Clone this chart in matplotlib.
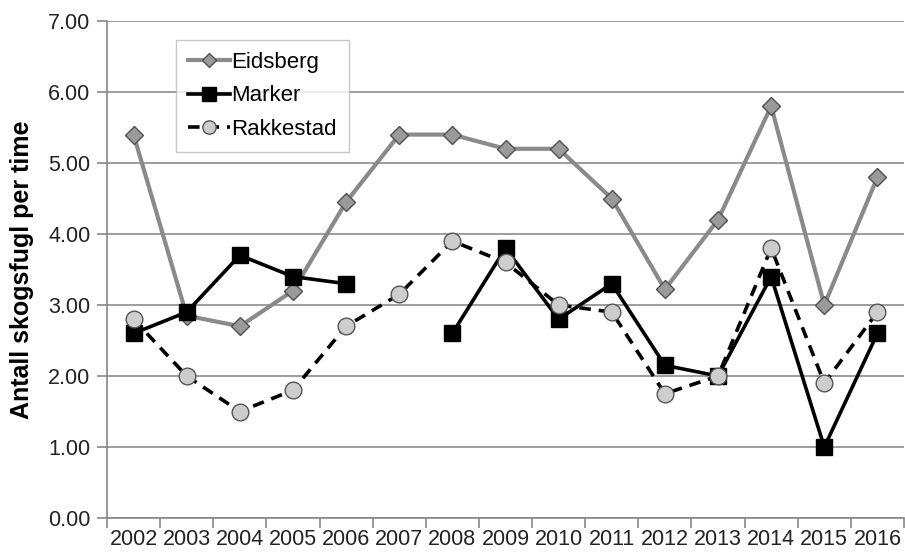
import numpy as np
import matplotlib
matplotlib.use("Agg")
import matplotlib.pyplot as plt

plt.rcParams['font.family'] = ['Liberation Sans', 'DejaVu Sans']

years = ["2002", "2003", "2004", "2005", "2006", "2007", "2008", "2009",
         "2010", "2011", "2012", "2013", "2014", "2015", "2016"]
eidsberg = [5.4, 2.85, 2.7, 3.2, 4.45, 5.4, 5.4, 5.2, 5.2, 4.5, 3.22, 4.2, 5.8, 3.0, 4.8]
marker = [2.6, 2.9, 3.7, 3.4, 3.3, np.nan, 2.6, 3.8, 2.8, 3.3, 2.15, 2.0, 3.4, 1.0, 2.6]
rakkestad = [2.8, 2.0, 1.5, 1.8, 2.7, 3.15, 3.9, 3.6, 3.0, 2.9, 1.75, 2.0, 3.8, 1.9, 2.9]
y_ticks = [0, 1, 2, 3, 4, 5, 6, 7]

fig = plt.figure(figsize=(9.05, 5.54), dpi=100)
ax = fig.add_axes([107 / 905, 1 - 518 / 554, (904 - 107) / 905, (518 - 21) / 554])

x = np.arange(len(years))

ax.plot(x, eidsberg, color='#8a8a8a', lw=3, marker='D', ms=9,
        mfc='#9a9a9a', mec='#505050', mew=1.0, label='Eidsberg', zorder=3)
ax.plot(x, marker, color='black', lw=2.6, marker='s', ms=12,
        mfc='black', mec='black', label='Marker', zorder=4)
ax.plot(x, rakkestad, color='black', lw=2.6, ls=(0, (3.2, 2.2)), marker='o', ms=12,
        mfc='#cdcdcd', mec='#555555', mew=1.0, label='Rakkestad', zorder=5)

ax.set_xlim(-0.5, len(years) - 0.5)
ax.set_ylim(0, 7)
ax.set_yticks(y_ticks)
ax.set_yticklabels([f"{v:.2f}" for v in y_ticks], fontsize=15.5, color='#222222')
ax.set_xticks(x)
ax.set_xticklabels(years, fontsize=15.5, color='#222222')
ax.set_xticks(np.arange(-0.5, len(years), 1.0), minor=True)
ax.tick_params(axis='x', which='major', length=0, pad=8)
ax.tick_params(axis='x', which='minor', length=7, color='#888888', width=1.2)
ax.tick_params(axis='y', length=7, color='#888888', width=1.2, pad=5)

ax.grid(axis='y', color='#8c8c8c', lw=1.2, zorder=0)
ax.set_axisbelow(True)
for s in ['top', 'right']:
    ax.spines[s].set_visible(False)
for s in ['left', 'bottom']:
    ax.spines[s].set_color('#888888')
    ax.spines[s].set_linewidth(1.2)

ax.set_ylabel("Antall skogsfugl per time", fontsize=18, fontweight='bold', labelpad=10)

leg = ax.legend(loc='upper left', bbox_to_anchor=(0.086, 0.962), fontsize=16,
                frameon=True, fancybox=False, edgecolor='#bbbbbb',
                handlelength=1.9, handletextpad=0.05, borderpad=0.55,
                labelspacing=0.55, borderaxespad=0, markerscale=0.8)
leg.get_frame().set_linewidth(1.0)

fig.savefig("out.png", dpi=100)
